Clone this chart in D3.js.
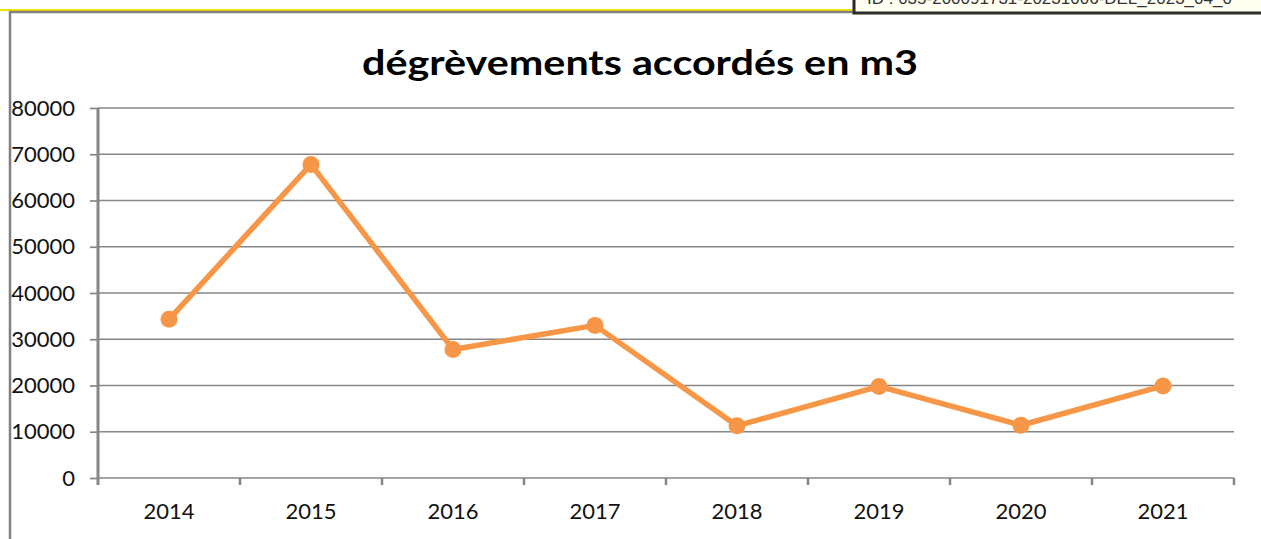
<!DOCTYPE html>
<html>
<head>
<meta charset="utf-8">
<script src="https://cdn.jsdelivr.net/npm/d3@7"></script>
<style>
  body { margin: 0; background: #fff; }
  svg { display: block; }
  .tick-lbl { font-family: Lato, "Open Sans", sans-serif; font-size: 22px; fill: #111; }
</style>
</head>
<body>
<div id="chart"></div>
<script>
// data
const years = ["2014", "2015", "2016", "2017", "2018", "2019", "2020", "2021"];
const degrevements = [34300, 67800, 27800, 33000, 11300, 19800, 11400, 19900];
const yTicks = [0, 10000, 20000, 30000, 40000, 50000, 60000, 70000, 80000];
const title = "dégrèvements accordés en m3";
const stampText = "ID : 035-200091731-20231006-DEL_2023_04_0";

const W = 1261, H = 539;
const margin = {top: 108, right: 27, bottom: 61, left: 98};

const svg = d3.select("#chart").append("svg")
    .attr("width", W)
    .attr("height", H);

// page decoration: yellow rule, chart frame, stamp box
svg.append("line")
    .attr("x1", 0).attr("x2", 855).attr("y1", 10).attr("y2", 10)
    .attr("stroke", "#f2e600").attr("stroke-width", 2);

svg.append("rect")
    .attr("x", 10).attr("y", 12).attr("width", 1400).attr("height", 700)
    .attr("fill", "none").attr("stroke", "#808080").attr("stroke-width", 2.5);

svg.append("rect")
    .attr("x", 854).attr("y", -20).attr("width", 450).attr("height", 33)
    .attr("fill", "#fffff2").attr("stroke", "#2b2b2b").attr("stroke-width", 3);

svg.append("text")
    .attr("x", 867).attr("y", 4)
    .attr("font-family", "Liberation Sans, Arial, sans-serif")
    .attr("font-size", 17)
    .attr("fill", "#333")
    .text(stampText);

// title
svg.append("text")
    .attr("x", 640).attr("y", 75)
    .attr("text-anchor", "middle")
    .attr("font-family", "Lato, 'Open Sans', sans-serif")
    .attr("font-weight", "bold")
    .attr("font-size", 35)
    .attr("textLength", 556)
    .attr("lengthAdjust", "spacingAndGlyphs")
    .attr("fill", "#000")
    .text(title);

let xScale = d3.scaleBand()
    .domain(years)
    .range([margin.left, W - margin.right])
    .padding(0);

let yScale = d3.scaleLinear()
    .domain([0, 80000])
    .range([H - margin.bottom, margin.top]);

// grid lines
svg.append("g")
    .selectAll("line")
    .data(yTicks.filter(d => d > 0))
    .join("line")
    .attr("x1", margin.left).attr("x2", W - margin.right)
    .attr("y1", d => yScale(d)).attr("y2", d => yScale(d))
    .attr("stroke", "#868686").attr("stroke-width", 1.7);

// y axis
let yAxis = svg.append("g")
    .attr("transform", "translate(" + margin.left + ",0)")
    .call(d3.axisLeft(yScale).tickValues(yTicks).tickSize(8).tickPadding(15)
          .tickFormat(d3.format("d")));
yAxis.select(".domain").remove();
yAxis.selectAll(".tick line").attr("stroke", "#868686").attr("stroke-width", 1.7);
yAxis.selectAll(".tick text").attr("class", "tick-lbl").attr("font-family", null).attr("font-size", null);
yAxis.append("line")
    .attr("x1", 0).attr("x2", 0)
    .attr("y1", yScale(80000)).attr("y2", yScale(0) + 7)
    .attr("stroke", "#868686").attr("stroke-width", 3);

// x axis
let xAxis = svg.append("g");
xAxis.append("line")
    .attr("x1", margin.left).attr("x2", W - margin.right)
    .attr("y1", yScale(0)).attr("y2", yScale(0))
    .attr("stroke", "#868686").attr("stroke-width", 1.7);
xAxis.selectAll("line.tk")
    .data(years.slice(1).concat(["end"]))
    .join("line")
    .attr("class", "tk")
    .attr("x1", d => d === "end" ? W - margin.right : xScale(d))
    .attr("x2", d => d === "end" ? W - margin.right : xScale(d))
    .attr("y1", yScale(0)).attr("y2", yScale(0) + 7)
    .attr("stroke", "#868686").attr("stroke-width", 2.5);
xAxis.selectAll("text")
    .data(years)
    .join("text")
    .attr("class", "tick-lbl")
    .attr("x", d => xScale(d) + xScale.bandwidth() / 2)
    .attr("y", 519)
    .attr("text-anchor", "middle")
    .text(d => d);

// series
const points = years.map((y, i) => [y, degrevements[i]]);
let lineGen = d3.line()
    .x(d => xScale(d[0]) + xScale.bandwidth() / 2)
    .y(d => yScale(d[1]));

svg.append("path")
    .attr("d", lineGen(points))
    .attr("fill", "none")
    .attr("stroke", "#f79646")
    .attr("stroke-width", 5.5)
    .attr("stroke-linejoin", "round");

svg.append("g")
    .selectAll("circle")
    .data(points)
    .join("circle")
    .attr("cx", d => xScale(d[0]) + xScale.bandwidth() / 2)
    .attr("cy", d => yScale(d[1]))
    .attr("r", 8.5)
    .attr("fill", "#f79646");
</script>
</body>
</html>
